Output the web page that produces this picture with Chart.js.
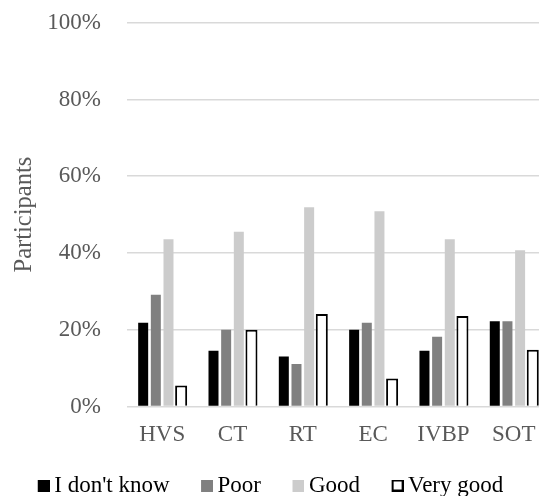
<!DOCTYPE html>
<html>
<head>
<meta charset="utf-8">
<script src="https://cdn.jsdelivr.net/npm/chart.js@4"></script>
<style>
  html, body { margin: 0; padding: 0; background: #fff; overflow: hidden; }
  #wrap { width: 550px; height: 496px; }
</style>
</head>
<body>
<div id="wrap"><canvas id="chart"></canvas></div>
<script>
const categories = ['HVS', 'CT', 'RT', 'EC', 'IVBP', 'SOT'];
const dontKnow = [21.8, 14.5, 13.0, 20.0, 14.5, 22.2];
const poor = [29.1, 20.0, 11.1, 21.8, 18.2, 22.2];
const good = [43.6, 45.5, 51.9, 50.9, 43.6, 40.7];
const veryGood = [5.5, 20.0, 24.1, 7.3, 23.6, 14.8];
const yTicks = [0, 20, 40, 60, 80, 100];

const serif = "'Liberation Serif', 'Times New Roman', serif";
Chart.defaults.font.family = serif;
Chart.defaults.font.size = 23;
const font = { family: serif, size: 23 };
const textColor = '#595959';

// legend square drawn on the right part of a wider canvas so it sits close to its text
const swatch = (fill, stroke) => {
	const c = document.createElement('canvas');
	c.width = 26;
	c.height = 12;
	const g = c.getContext('2d');
	g.fillStyle = fill;
	g.fillRect(14, 0, 12, 12);
	if (stroke) {
		g.strokeStyle = stroke;
		g.lineWidth = 2;
		g.strokeRect(15, 1, 10, 10);
	}
	return c;
};

const nudgeLegend = {
	id: 'nudgeLegend',
	afterLayout(chart) {
		const lg = chart.legend;
		lg.left -= 8;
		lg.right -= 8;
		lg.top += 1;
		lg.bottom += 1;
	}
};

const data = {
	labels: categories,
	datasets: [
		{ label: "I don't know", data: dontKnow, backgroundColor: '#000000', barPercentage: 0.79 },
		{ label: 'Poor', data: poor, backgroundColor: '#808080', barPercentage: 0.79 },
		{ label: 'Good', data: good, backgroundColor: '#cccccc', barPercentage: 0.79 },
		{ label: 'Very good', data: veryGood, backgroundColor: '#ffffff', borderColor: '#000000', borderWidth: 2, barPercentage: 0.95 }
	]
};

const options = {
	responsive: true,
	maintainAspectRatio: false,
	animation: false,
	datasets: { bar: { categoryPercentage: 0.72 } },
	layout: { padding: { top: 0, right: 0, bottom: -10, left: 0 } },
	plugins: {
		tooltip: { enabled: false },
		legend: {
			position: 'bottom',
			labels: {
				usePointStyle: true,
				boxWidth: 12,
				boxHeight: 12,
				padding: 24.5,
				color: '#000000',
				font: font,
				generateLabels: (chart) => {
					const items = Chart.defaults.plugins.legend.labels.generateLabels(chart);
					const ds = chart.data.datasets;
					items.forEach((item, i) => {
						item.pointStyle = swatch(ds[i].backgroundColor, ds[i].borderColor);
					});
					return items;
				}
			}
		}
	},
	scales: {
		x: {
			grid: { display: false, drawTicks: false },
			border: { display: false },
			afterFit: (scale) => {
				scale.height = 42;
			},
			ticks: { color: textColor, font: font, padding: 14.5 }
		},
		y: {
			min: 0,
			max: 100,
			border: { display: false },
			grid: { color: '#d9d9d9', lineWidth: 1.5, drawTicks: false },
			afterBuildTicks: (scale) => {
				scale.ticks = yTicks.map(v => ({ value: v }));
			},
			afterFit: (scale) => {
				scale.width = 127;
				scale.paddingTop = 22.7;
				scale.paddingBottom = 14;
			},
			ticks: {
				color: textColor,
				font: font,
				padding: 26,
				callback: (v) => v + '%'
			},
			title: {
				display: true,
				text: 'Participants',
				color: textColor,
				font: { family: serif, size: 24.5 },
				padding: { top: 10, bottom: 0 }
			}
		}
	}
};

const ctx = document.getElementById('chart').getContext('2d');
window.myChart = new Chart(ctx, { type: 'bar', data: data, options: options, plugins: [nudgeLegend] });
</script>
</body>
</html>
